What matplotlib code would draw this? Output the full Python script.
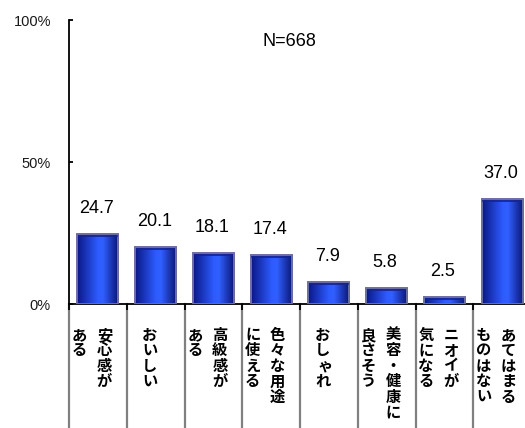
import numpy as np
import matplotlib
matplotlib.use('Agg')
import matplotlib.pyplot as plt
from matplotlib.colors import LinearSegmentedColormap
from matplotlib import transforms

plt.rcParams['font.family'] = ['Liberation Sans', 'Noto Sans CJK JP', 'DejaVu Sans']

# each label is a list of vertical columns, read right to left
labels = [
    ['安心感が', 'ある'],
    ['おいしい'],
    ['高級感が', 'ある'],
    ['色々な用途', 'に使える'],
    ['おしゃれ'],
    ['美容・健康に', '良さそう'],
    ['ニオイが', '気になる'],
    ['あてはまる', 'ものはない'],
]
values = [24.7, 20.1, 18.1, 17.4, 7.9, 5.8, 2.5, 37.0]
yticks = [0, 50, 100]
ytick_labels = ['0%', '50%', '100%']
n_label = 'N=668'

W, H = 525, 428
fig = plt.figure(figsize=(W / 100, H / 100), dpi=100)
ax = fig.add_axes([69 / W, 124 / H, 462 / W, 284 / H])

x = np.arange(len(values))
bw = 0.71
cmap = LinearSegmentedColormap.from_list(
    'barblue', [(0, '#0a1886'), (0.5, '#2d5cff'), (0.62, '#3060ff'), (1, '#0a1474')])
grad = np.linspace(0, 1, 64).reshape(1, -1)

bars = ax.bar(x, values, width=bw, color='none', edgecolor='#6e6ea6', linewidth=1.4, zorder=3)
for b, v in zip(bars, values):
    x0 = b.get_x()
    im = ax.imshow(grad, cmap=cmap, aspect='auto', extent=(x0, x0 + bw, 0, v),
                   zorder=2, interpolation='bilinear')
    im.set_clip_path(b)
    cap = transforms.offset_copy(ax.transData, fig=fig, y=-2.5, units='dots')
    ax.plot([x0 + 0.03, x0 + bw - 0.03], [v, v], color='#14238f', lw=1.2,
            transform=cap, zorder=3)
    ax.annotate(f'{v:.1f}', (b.get_x() + bw / 2, v), xytext=(-1, 12),
                textcoords='offset points', ha='center', va='bottom', fontsize=13)

ax.set_xlim(-0.5, len(values) - 0.5)
ax.set_ylim(0, 100)
ax.set_xticks(np.arange(len(values) + 1) - 0.5)
ax.set_xticklabels([])
ax.tick_params(axis='x', direction='out', length=4, width=1.3, color='black')
ax.set_yticks(yticks)
ax.set_yticklabels(ytick_labels, fontsize=10.5, color='#1a1a1a')
ax.tick_params(axis='y', direction='in', length=3, width=1.3, pad=13)
for s in ['top', 'right']:
    ax.spines[s].set_visible(False)
for s in ['left', 'bottom']:
    ax.spines[s].set_linewidth(1.3)

# gray separators under the category axis
sep = transforms.blended_transform_factory(ax.transData, ax.transAxes)
for bx in np.arange(len(values) + 1) - 0.5:
    ax.plot([bx, bx], [0, -0.45], color='#808080', lw=1.6, transform=sep,
            clip_on=False, zorder=1)

# vertical Japanese labels
pitch = 11.1
for i, cols in enumerate(labels):
    n = len(cols)
    for j, col in enumerate(cols):
        dx_px = -6 + (n - 1) * 12.5 - j * 25
        for k, ch in enumerate(col):
            dx, dy = dx_px * 0.72, -22.3 - k * pitch
            if ch in 'ゃゅょっ':
                dx += 1.5
            ax.annotate(ch, (i, 0), xytext=(dx, dy), textcoords='offset points',
                        ha='center', va='center', fontsize=11, fontweight='bold',
                        family='Noto Sans CJK JP', annotation_clip=False)

fig.text(289 / W, 1 - 42 / H, n_label, ha='center', va='center', fontsize=13)

fig.savefig('out.png', dpi=100)
